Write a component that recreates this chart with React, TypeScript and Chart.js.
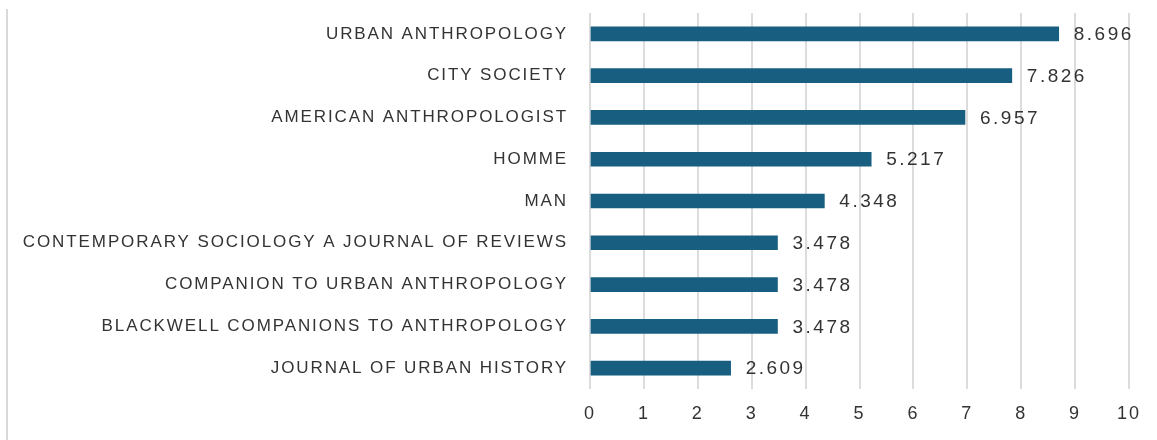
import React, { useEffect, useRef } from "react";
import { Chart, registerables } from "chart.js";

Chart.register(...registerables);

const categories: string[] = [
  "URBAN ANTHROPOLOGY",
  "CITY SOCIETY",
  "AMERICAN ANTHROPOLOGIST",
  "HOMME",
  "MAN",
  "CONTEMPORARY SOCIOLOGY A JOURNAL OF REVIEWS",
  "COMPANION TO URBAN ANTHROPOLOGY",
  "BLACKWELL COMPANIONS TO ANTHROPOLOGY",
  "JOURNAL OF URBAN HISTORY",
];
const values: number[] = [8.696, 7.826, 6.957, 5.217, 4.348, 3.478, 3.478, 3.478, 2.609];
const xMin = 0;
const xMax = 10;
const xStep = 1;

const BAR_COLOR = "#175e80";
const TEXT_COLOR = "#333333";
const GRID_COLOR = "#dcdcdc";
const FONT = '"Liberation Sans", Arial, sans-serif';

function patchSpacing(scale: any, spacing: string) {
  if (scale.__patched) return;
  const orig = scale.drawLabels.bind(scale);
  scale.drawLabels = (ca: any) => {
    const ctx = scale.ctx as any;
    const prev = ctx.letterSpacing;
    ctx.letterSpacing = spacing;
    orig(ca);
    ctx.letterSpacing = prev || "0px";
  };
  scale.__patched = true;
}

const valueLabelPlugin = {
  id: "valueLabels",
  afterDatasetsDraw(chart: any) {
    const ctx = chart.ctx;
    const meta = chart.getDatasetMeta(0);
    ctx.save();
    (ctx as any).letterSpacing = "2.5px";
    ctx.font = `19px ${FONT}`;
    ctx.fillStyle = TEXT_COLOR;
    ctx.textAlign = "left";
    ctx.textBaseline = "middle";
    meta.data.forEach((bar: any, i: number) => {
      ctx.fillText(values[i].toFixed(3), bar.x + 15, bar.y + 1);
    });
    ctx.restore();
  },
};

export default function App() {
  const ref = useRef<HTMLCanvasElement | null>(null);
  useEffect(() => {
    if (!ref.current) return;
    const chart = new Chart(ref.current, {
      type: "bar",
      data: {
        labels: categories,
        datasets: [
          {
            data: values,
            backgroundColor: BAR_COLOR,
            barThickness: 14,
            borderWidth: 0,
          },
        ],
      },
      options: {
        indexAxis: "y",
        responsive: false,
        animation: false,
        layout: { padding: { top: 13, right: 28, bottom: 0, left: 0 } },
        plugins: {
          legend: { display: false },
          tooltip: { enabled: false },
        },
        scales: {
          x: {
            min: xMin,
            max: xMax,
            ticks: {
              stepSize: xStep,
              color: TEXT_COLOR,
              font: { family: FONT, size: 18 },
              padding: 14,
              maxRotation: 0,
            },
            grid: { color: GRID_COLOR, lineWidth: 2, drawTicks: false },
            border: { display: false },
            afterFit(scale: any) {
              scale.height = 51;
              scale.paddingLeft = 0;
              scale.paddingRight = 0;
              scale.paddingTop = 0;
              scale.paddingBottom = 0;
              patchSpacing(scale, "2px");
            },
          },
          y: {
            ticks: {
              color: TEXT_COLOR,
              font: { family: FONT, size: 17 },
              padding: 22,
              autoSkip: false,
            },
            grid: { display: false, drawTicks: false },
            border: { display: false },
            afterFit(scale: any) {
              scale.width = 590;
              scale.paddingLeft = 0;
              scale.paddingRight = 0;
              scale.paddingTop = 0;
              scale.paddingBottom = 0;
              patchSpacing(scale, "1.9px");
            },
          },
        },
      },
      plugins: [valueLabelPlugin],
    });
    return () => chart.destroy();
  }, []);

  return (
    <div style={{ position: "absolute", left: 0, top: 0, width: 1157, height: 440, background: "#fff" }}>
      <div style={{ position: "absolute", left: 6, top: 9, width: 2, height: 431, background: "#d9d9d9" }} />
      <canvas ref={ref} width={1157} height={440} style={{ position: "absolute", left: 0, top: 0 }} />
    </div>
  );
}
